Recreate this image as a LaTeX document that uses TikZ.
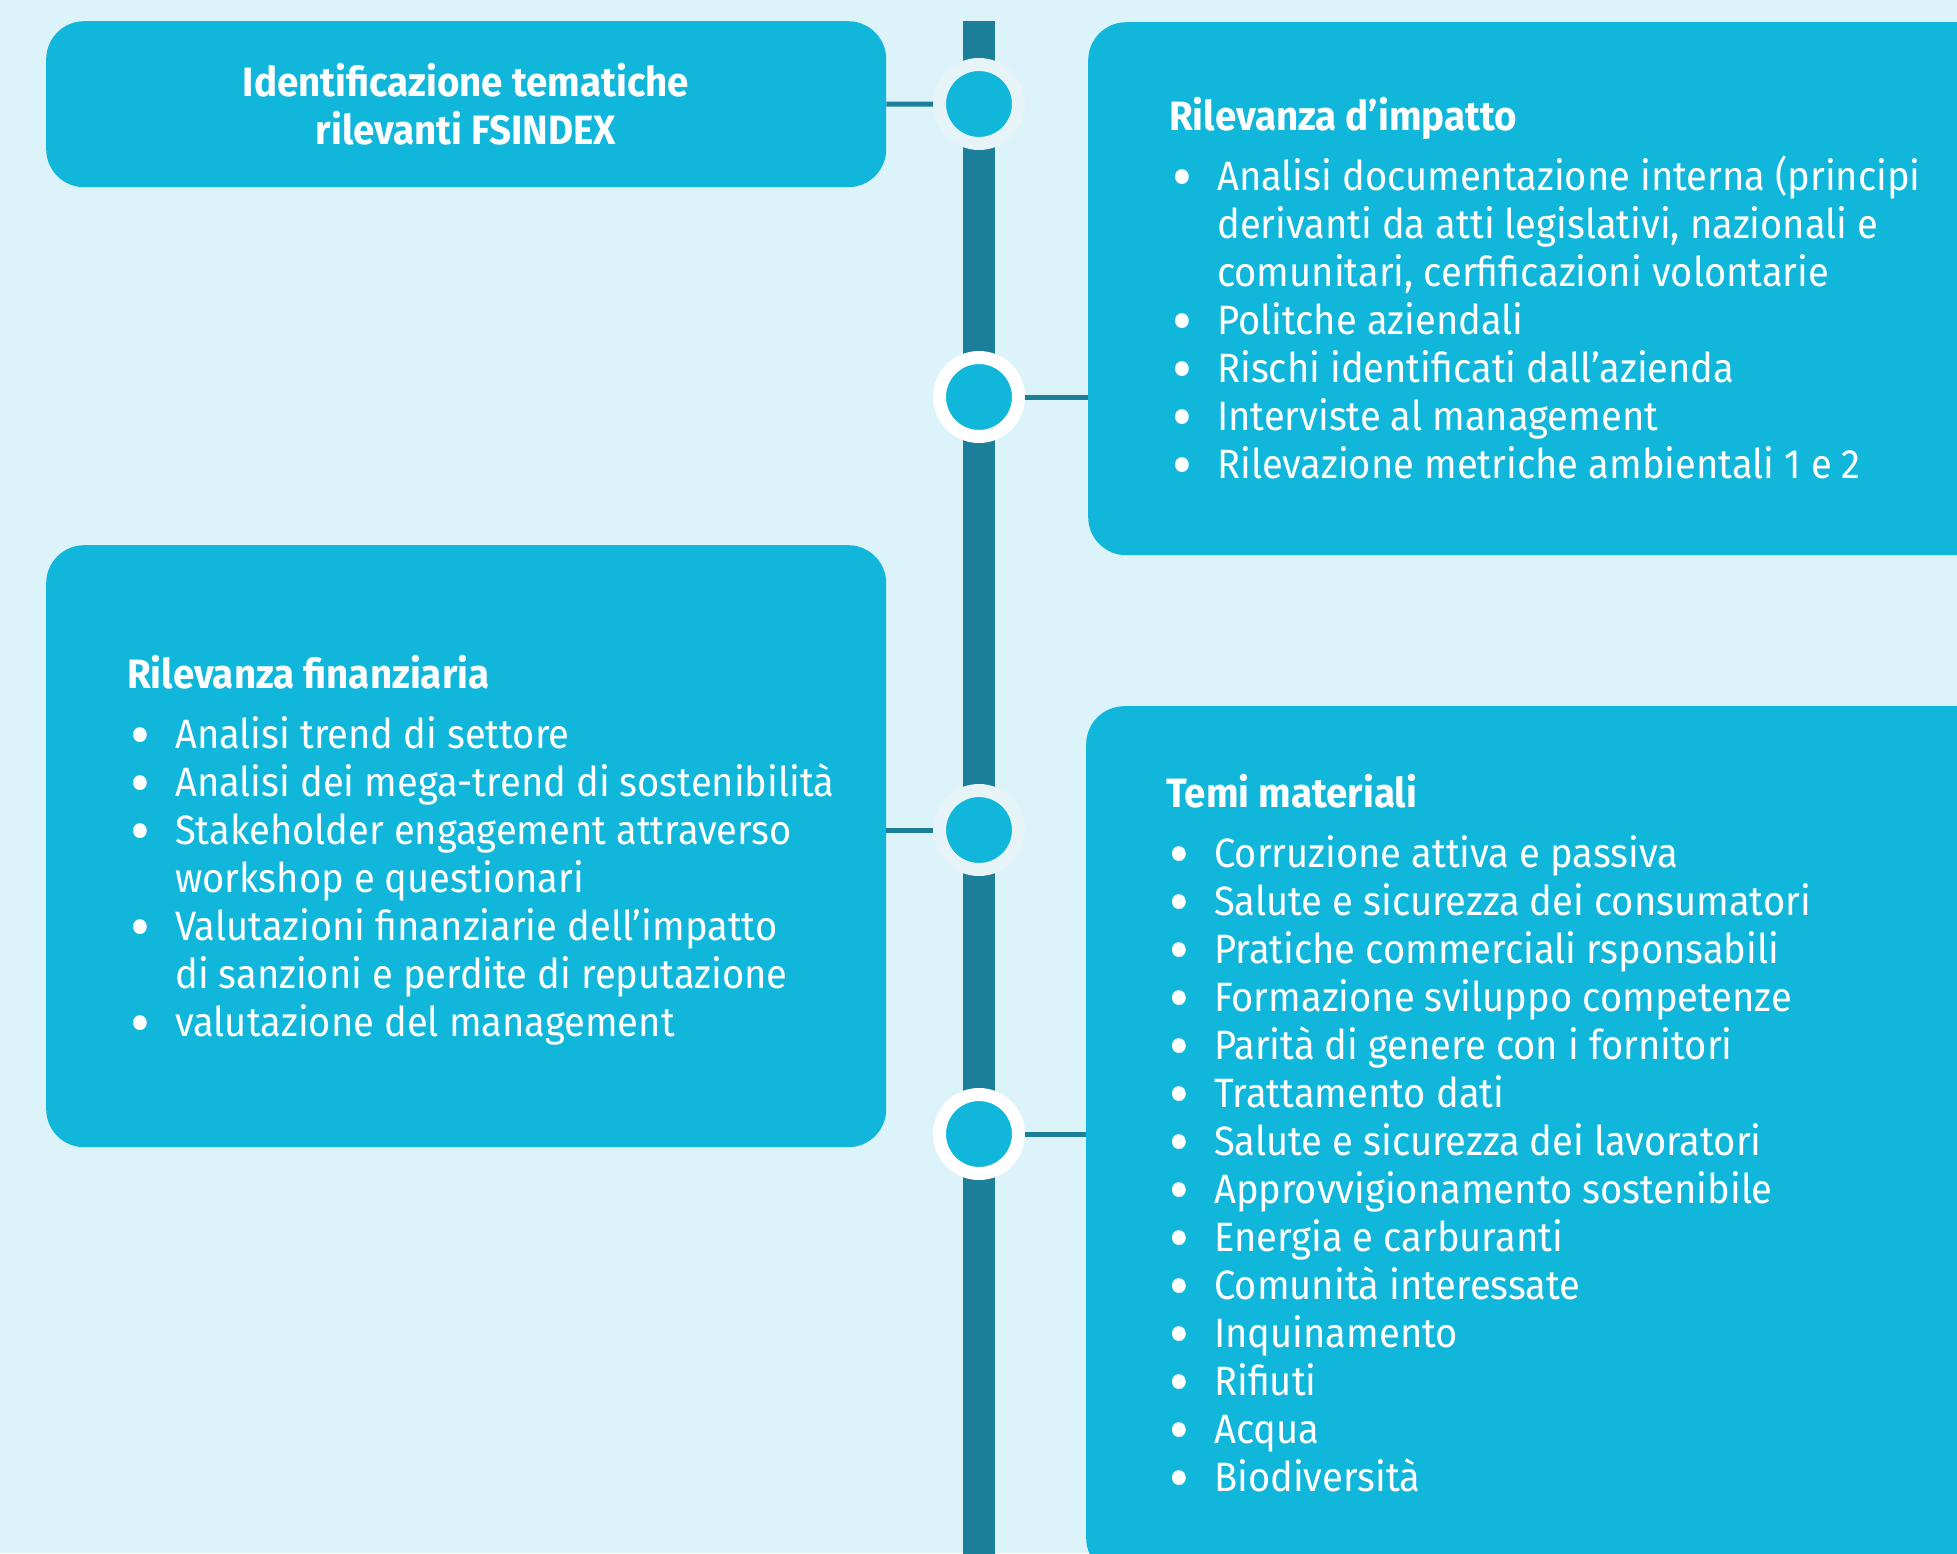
\documentclass[tikz,border=0pt]{standalone}
\usepackage{fontspec}
\setmainfont{Fira Sans}[FakeStretch=0.93, BoldFeatures={FakeStretch=0.94}]
\usetikzlibrary{positioning}

\definecolor{sfondo}{HTML}{DBF3F9}
\definecolor{riquadro}{HTML}{11B7DB}
\definecolor{asse}{HTML}{1C7F9A}
\definecolor{anello}{HTML}{E6F4F8}

% voce di elenco e riga di seguito
\newcommand{\pallino}{\smash{\raisebox{-9pt}{\scalebox{1.6}{\textbullet}}}}
\newcommand{\voce}[1]{\makebox[48pt][l]{\hspace{3pt}\pallino}#1}
\newcommand{\segue}[1]{\hspace*{48pt}#1}

\tikzset{
  riq/.style={fill=riquadro, rounded corners=38pt, inner sep=0pt, anchor=north west},
  tappa/.style={circle, fill=riquadro, draw=#1, line width=13pt, minimum size=79pt, inner sep=0pt},
  testo/.style={text=white, inner sep=0pt, anchor=base west, align=left,
    font=\fontsize{41}{48}\selectfont},
  titolo/.style={font=\fontsize{41}{48}\selectfont\bfseries},
  raccordo/.style={draw=asse, line width=5pt}
}

\begin{document}
\begin{tikzpicture}[x=1pt, y=-1pt]
  \useasboundingbox (0,0) rectangle (1957,1553);
  \fill[sfondo] (0,0) rectangle (1957,1553);
  \clip (0,0) rectangle (1957,1553);

  % asse verticale
  \coordinate (cima) at (979,21);
  \coordinate (fondo) at (979,1560);
  \draw[asse, line width=32pt] (cima) -- (fondo);

  % riquadri
  \node[riq, minimum width=840pt, minimum height=166pt] (identif) at (46,21) {};
  \node[riq, minimum width=920pt, minimum height=533pt] (impatto) at (1088,22) {};
  \node[riq, minimum width=840pt, minimum height=602pt] (finanz) at (46,545) {};
  \node[riq, minimum width=920pt, minimum height=870pt] (temi) at (1086,706) {};

  % tappe
  \node[tappa=anello] (c1) at (979,104) {};
  \node[tappa=white] (c2) at (979,397) {};
  \node[tappa=anello] (c3) at (979,830) {};
  \node[tappa=white] (c4) at (979,1134) {};

  \draw[raccordo] (identif.east) -- (c1);
  \draw[raccordo] (c2) -- (c2 -| impatto.west);
  \draw[raccordo] (finanz.east |- c3) -- (c3);
  \draw[raccordo] (c4) -- (c4 -| temi.west);

  % testi (ancorati alla linea di base dell'ultima riga)
  \node[testo, titolo, align=center, anchor=base] (t1) at (466,144)
    {Identificazione tematiche\\rilevanti FSINDEX};

  \node[testo] (t2) at (1169,478) {%
    \textbf{Rilevanza d’impatto}\\[12pt]
    \voce{Analisi documentazione interna (principi}\\
    \segue{derivanti da atti legislativi, nazionali e}\\
    \segue{comunitari, cerfificazioni volontarie}\\
    \voce{Politche aziendali}\\
    \voce{Rischi identificati dall’azienda}\\
    \voce{Interviste al management}\\
    \voce{Rilevazione metriche ambientali 1 e 2}};

  \node[testo] (t3) at (127,1036) {%
    \textbf{Rilevanza finanziaria}\\[12pt]
    \voce{Analisi trend di settore}\\
    \voce{Analisi dei mega-trend di sostenibilità}\\
    \voce{Stakeholder engagement attraverso}\\
    \segue{workshop e questionari}\\
    \voce{Valutazioni finanziarie dell’impatto}\\
    \segue{di sanzioni e perdite di reputazione}\\
    \voce{valutazione del management}};

  \node[testo] (t4) at (1166,1491) {%
    \textbf{Temi materiali}\\[12pt]
    \voce{Corruzione attiva e passiva}\\
    \voce{Salute e sicurezza dei consumatori}\\
    \voce{Pratiche commerciali rsponsabili}\\
    \voce{Formazione sviluppo competenze}\\
    \voce{Parità di genere con i fornitori}\\
    \voce{Trattamento dati}\\
    \voce{Salute e sicurezza dei lavoratori}\\
    \voce{Approvvigionamento sostenibile}\\
    \voce{Energia e carburanti}\\
    \voce{Comunità interessate}\\
    \voce{Inquinamento}\\
    \voce{Rifiuti}\\
    \voce{Acqua}\\
    \voce{Biodiversità}};
\end{tikzpicture}
\end{document}
